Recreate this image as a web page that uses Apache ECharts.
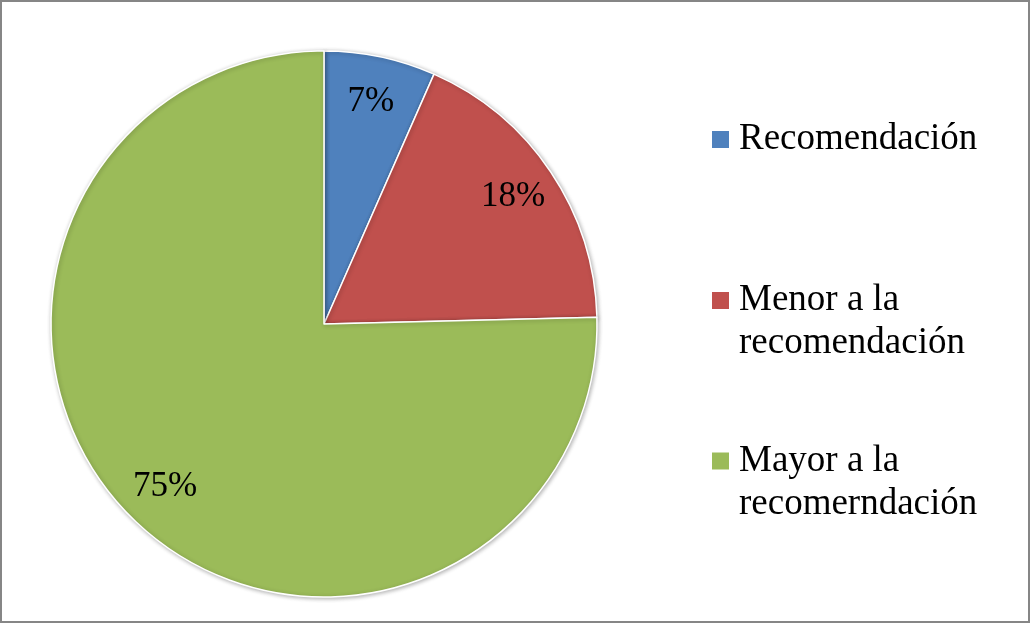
<!DOCTYPE html>
<html>
<head>
<meta charset="utf-8">
<script src="https://cdn.jsdelivr.net/npm/echarts@6/dist/echarts.min.js"></script>
<style>
  html, body { margin: 0; padding: 0; background: #ffffff; }
  #chart { width: 1031px; height: 625px; }
</style>
</head>
<body>
<div id="chart"></div>
<script>
// Share of cases by intake relative to the recommendation (percent)
const categories = ['Recomendación', 'Menor a la\nrecomendación', 'Mayor a la\nrecomerndación'];
const shares = [6.6, 18.0, 75.4];
const colors = ['#4F81BD', '#C0504D', '#9BBB59'];

const FONT = '"Liberation Serif", "Times New Roman", serif';
const LINE = 43;

const pieData = categories.map((name, i) => ({ name, value: shares[i], itemStyle: { color: colors[i] } }));

// one legend block per category; an empty leading line keeps the marker
// level with the first line of a two-line entry
const markerCenters = [139.5, 300.5, 461];
const legends = categories.map((name, i) => {
  const lines = name.split('\n').length;
  const boxHeight = (2 * lines - 1) * LINE;
  return {
    data: [name],
    orient: 'vertical',
    left: 712,
    top: markerCenters[i] - boxHeight / 2,
    padding: 0,
    itemWidth: 17,
    itemHeight: 17,
    icon: 'rect',
    selectedMode: false,
    formatter: (n) => '\n'.repeat(lines - 1) + n,
    itemStyle: { borderWidth: 0, shadowBlur: 0, shadowOffsetX: 0, shadowOffsetY: 0 },
    textStyle: {
      fontFamily: FONT,
      fontSize: 37,
      color: '#000000',
      lineHeight: LINE,
      padding: [0, 0, 0, 5]
    }
  };
});

const chart = echarts.init(document.getElementById('chart'), null, { renderer: 'canvas' });
chart.setOption({
  backgroundColor: '#ffffff',
  animation: false,
  legend: legends,
  graphic: [{
    type: 'rect',
    shape: { x: 1, y: 1, width: 1028, height: 621 },
    style: { fill: 'none', stroke: '#868686', lineWidth: 2 },
    silent: true,
    z: 100
  }],
  series: [
    {
      name: 'slices',
      type: 'pie',
      center: [324, 324],
      radius: [0, 273],
      startAngle: 90,
      clockwise: true,
      silent: true,
      label: { show: false },
      labelLine: { show: false },
      itemStyle: {
        borderColor: '#ffffff',
        borderWidth: 1.5,
        shadowBlur: 4,
        shadowColor: 'rgba(0,0,0,0.3)',
        shadowOffsetX: 1,
        shadowOffsetY: 1
      },
      data: pieData
    },
    {
      // transparent ring that only carries the percentage labels
      name: 'labels',
      type: 'pie',
      center: [324, 324],
      radius: [176, 273],
      startAngle: 90,
      clockwise: true,
      silent: true,
      z: 3,
      percentPrecision: 0,
      itemStyle: { color: 'rgba(0,0,0,0)', borderWidth: 0 },
      label: {
        show: true,
        position: 'inside',
        formatter: '{d}%',
        fontFamily: FONT,
        fontSize: 35,
        color: '#000000'
      },
      labelLine: { show: false },
      data: categories.map((name, i) => ({ name, value: shares[i] }))
    }
  ]
});
</script>
</body>
</html>
